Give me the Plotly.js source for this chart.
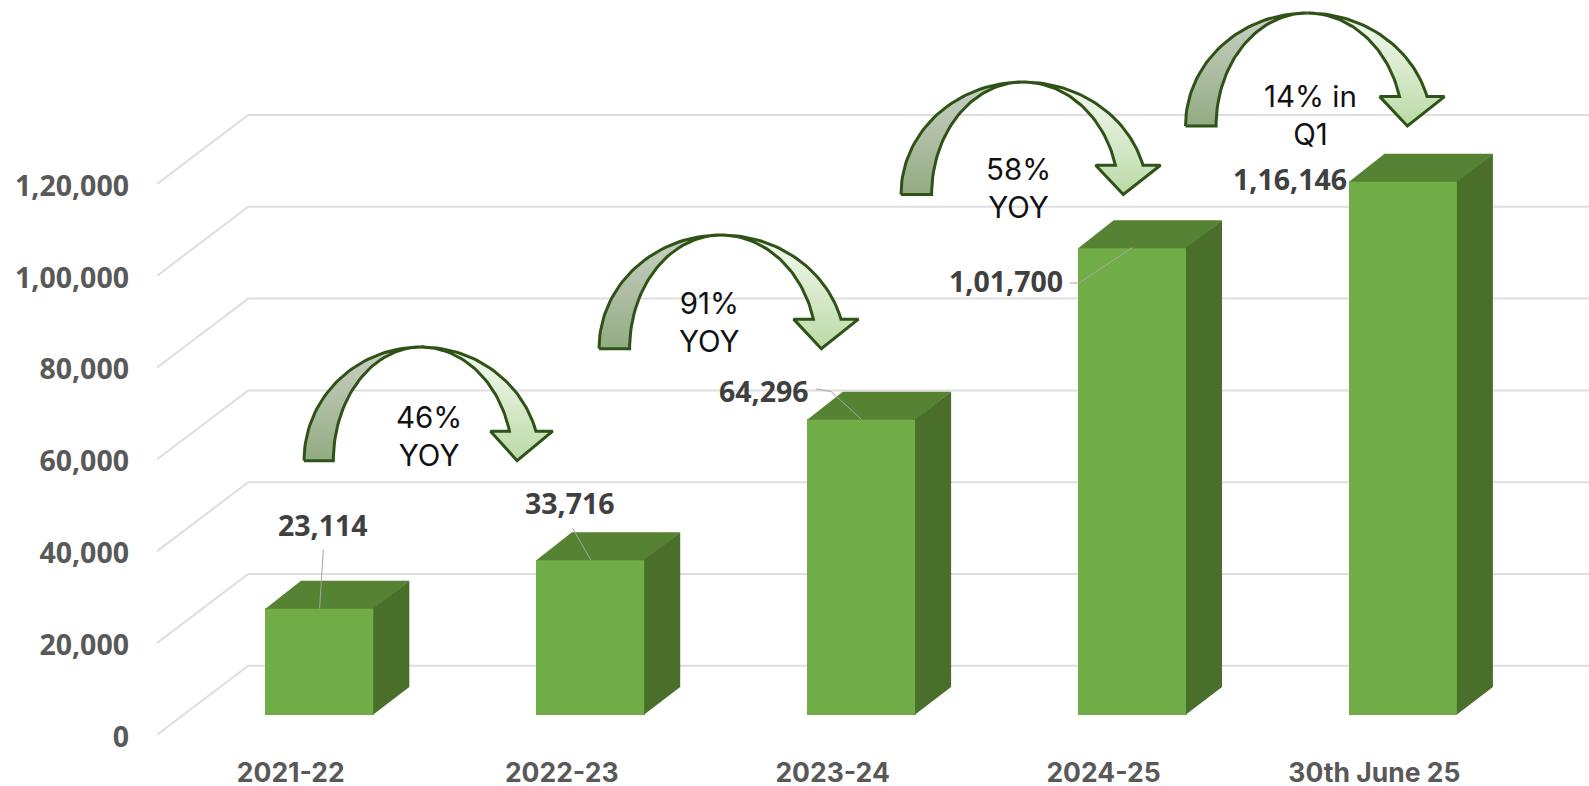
<!DOCTYPE html>
<html>
<head>
<meta charset="utf-8">
<script src="https://cdn.plot.ly/plotly-3.0.1.min.js"></script>
<style>html,body{margin:0;padding:0;background:#fff;overflow:hidden}#chart{width:1589px;height:786px}</style>
</head>
<body>
<div id="chart"></div>
<script>
// ---------- data ----------
const categories = ['2021-22', '2022-23', '2023-24', '2024-25', '30th June 25'];
const values = [23114, 33716, 64296, 101700, 116146];
const valueLabels = ['23,114', '33,716', '64,296', '1,01,700', '1,16,146'];
const tickValues = [0, 20000, 40000, 60000, 80000, 100000, 120000];
const tickLabels = ['0', '20,000', '40,000', '60,000', '80,000', '1,00,000', '1,20,000'];
const growthLabels = ['46%<br>YOY', '91%<br>YOY', '58%<br>YOY', '14% in<br>Q1'];

// ---------- geometry (pixels of the picture) ----------
const W = 1589, H = 786, PL = 130, PB = 745;
const CAT0 = 290.8, CATSTEP = 270.9;
const PX_PER_UNIT = 91.8 / 20000;
const TICK_SHIFT = 2;
const AXIS_ZERO = 734.7 + TICK_SHIFT, BAR_ZERO = 714.5;
const BAR_OFFSET = -0.0935, BAR_WIDTH = 0.4;
const DEPTH_X = 0.131, DEPTH_Y = 6000;
const WALL_X0 = -0.4935, WALL_DX = 0.3364, WALL_DY = 15011;
const xr = [(PL - CAT0) / CATSTEP, (W - CAT0) / CATSTEP];
const yRange = z => [(z - PB) / PX_PER_UNIT, z / PX_PER_UNIT];

const traces = [];

// gridlines: side wall + back wall (under the bars)
const gx = [], gy = [];
const gridShift = TICK_SHIFT / PX_PER_UNIT;
tickValues.forEach(v => {
  gx.push(WALL_X0, WALL_X0 + WALL_DX, xr[1], null);
  gy.push(v + gridShift, v + gridShift + WALL_DY, v + gridShift + WALL_DY, null);
});
traces.push({type:'scatter', mode:'lines', x:gx, y:gy, xaxis:'x', yaxis:'y',
  line:{color:'#dedede', width:2}, hoverinfo:'skip', showlegend:false});

// bars: front face
const xIdx = categories.map((_, i) => i);
traces.push({type:'bar', x:xIdx, y:values, xaxis:'x', yaxis:'y2', width:BAR_WIDTH, offset:BAR_OFFSET,
  marker:{color:'#70ad47', line:{width:0}}, hoverinfo:'skip', showlegend:false});

// bars: top and side faces (a hair over the front face so no seam shows)
const SEAM_X = 0.002, SEAM_Y = 100;
const tx = [], ty = [], sx = [], sy = [];
values.forEach((v, i) => {
  const a = i + BAR_OFFSET, b = a + BAR_WIDTH;
  tx.push(a, a + DEPTH_X, b + DEPTH_X, b, a, null);
  ty.push(v - SEAM_Y, v + DEPTH_Y, v + DEPTH_Y, v - SEAM_Y, v - SEAM_Y, null);
  sx.push(b - SEAM_X, b + DEPTH_X, b + DEPTH_X, b - SEAM_X, b - SEAM_X, null);
  sy.push(v, v + DEPTH_Y, DEPTH_Y, 0, v, null);
});
traces.push({type:'scatter', mode:'none', x:tx, y:ty, xaxis:'x', yaxis:'y2', fill:'toself',
  fillcolor:'#568234', hoverinfo:'skip', showlegend:false});
traces.push({type:'scatter', mode:'none', x:sx, y:sy, xaxis:'x', yaxis:'y2', fill:'toself',
  fillcolor:'#4a6f2b', hoverinfo:'skip', showlegend:false});

// leader lines from the value labels to the bars (pixel overlay start, bar top end)
const barTopPx = (v, i, f) => [CAT0 + CATSTEP * (i + BAR_OFFSET + BAR_WIDTH * f), BAR_ZERO - v * PX_PER_UNIT];
const leaderStarts = [
  [[323.3, 550]],
  [[572.5, 528]],
  [[815.8, 389], [831, 391.5]],
  [[1070, 283], [1079, 283]],
];
leaderStarts.forEach((pts, i) => {
  const end = barTopPx(values[i], i, 0.5);
  const all = pts.concat([end]);
  traces.push({type:'scatter', mode:'lines', x:all.map(p => p[0]), y:all.map(p => p[1]),
    xaxis:'x3', yaxis:'y3', line:{color:'#a6a6a6', width:1}, hoverinfo:'skip', showlegend:false});
});

// curved arrows
function arc(cx, cy, rx, ry, t0, t1, n) {
  const out = [];
  for (let k = 0; k <= n; k++) {
    const t = (t0 + (t1 - t0) * k / n) * Math.PI / 180;
    out.push([cx + rx * Math.cos(t), cy - ry * Math.sin(t)]);
  }
  return out;
}
const TOP = 0.47, BASEW = 0.118, ORX = 0.479, IRX = 0.369, HEADANG = 15.07;
function arrow(left, right, top, bottom) {
  const w = right - left, h = bottom - top;
  const P = ([u, v]) => [left + u * w, top + v * h];
  const leftPiece = arc(TOP, 1, TOP, 1, 180, 90, 40)
    .concat(arc(TOP, 1, TOP - BASEW, 1, 90, 180, 40));
  leftPiece.push(leftPiece[0]);
  const outer = arc(TOP, 1, ORX, 1, 90, HEADANG, 40);
  const inner = arc(TOP, 1, IRX, 1, HEADANG, 90, 40);
  const yh = outer[outer.length - 1][1];
  const rightPiece = outer.concat([[1, yh], [0.8567, 1], [0.75, yh]], inner);
  rightPiece.push(rightPiece[0]);
  const add = (poly, c0, c1) => {
    const p = poly.map(P);
    traces.push({type:'scatter', mode:'lines', x:p.map(q => q[0]), y:p.map(q => q[1]),
      xaxis:'x3', yaxis:'y3', fill:'toself', line:{color:'#2f5216', width:3},
      fillgradient:{type:'vertical', colorscale:[[0, c0], [1, c1]]},
      hoverinfo:'skip', showlegend:false});
  };
  add(leftPiece, '#92ab82', '#cbd0c6');
  add(rightPiece, '#bbd9a6', '#f6faf3');
}
arrow(304, 552.7, 347, 460.7);
arrow(599, 858.5, 235, 348.7);
arrow(901, 1160.5, 82, 194.5);
arrow(1185.5, 1444.5, 13, 126);

// ---------- annotations ----------
const boldFont = '"Open Sans", Roboto, Arial, sans-serif';
const ann = [];
const valuePos = [[323, 525], [570, 503], [764, 390.5], [1006, 280.5], [1290, 178.5]];
valueLabels.forEach((t, i) => ann.push({xref:'x3', yref:'y3', x:valuePos[i][0], y:valuePos[i][1], text:t,
  showarrow:false, xanchor:'center', yanchor:'middle',
  font:{family:boldFont, size:28.5, weight:700, color:'#404040'}}));
const growthPos = [[429, 436], [709.5, 321.5], [1018.5, 187.5], [1310.5, 114.5]];
growthLabels.forEach((t, i) => ann.push({xref:'x3', yref:'y3', x:growthPos[i][0], y:growthPos[i][1], text:t,
  showarrow:false, xanchor:'center', yanchor:'middle', align:'center',
  font:{family:'Inter, sans-serif', size:29.5, color:'#111111'}}));

// ---------- layout ----------
const tickFont = {family:boldFont, size:28.5, weight:700, color:'#595959'};
const catFont = {family:'Inter, Roboto, Arial, sans-serif', size:26.5, weight:700, color:'#595959'};
const hidden = {visible:false, fixedrange:true};
const layout = {
  width:W, height:H,
  margin:{l:PL, r:0, t:0, b:H - PB, pad:0},
  paper_bgcolor:'#ffffff', plot_bgcolor:'#ffffff',
  showlegend:false, bargap:0, annotations:ann,
  xaxis:{range:xr, tickmode:'array', tickvals:xIdx, ticktext:categories, tickfont:catFont,
    showgrid:false, zeroline:false, showline:false, ticks:'', fixedrange:true, ticklabelstandoff:9},
  yaxis:{range:yRange(AXIS_ZERO), tickmode:'array', tickvals:tickValues, ticktext:tickLabels, tickfont:tickFont,
    showgrid:false, zeroline:false, showline:false, ticks:'', fixedrange:true},
  yaxis2:Object.assign({overlaying:'y', range:yRange(BAR_ZERO)}, hidden),
  xaxis3:Object.assign({overlaying:'x', range:[PL, W], anchor:'y3'}, hidden),
  yaxis3:Object.assign({overlaying:'y', range:[PB, 0], anchor:'x3'}, hidden)
};
Plotly.newPlot('chart', traces, layout, {displayModeBar:false, responsive:false});
</script>
</body>
</html>
